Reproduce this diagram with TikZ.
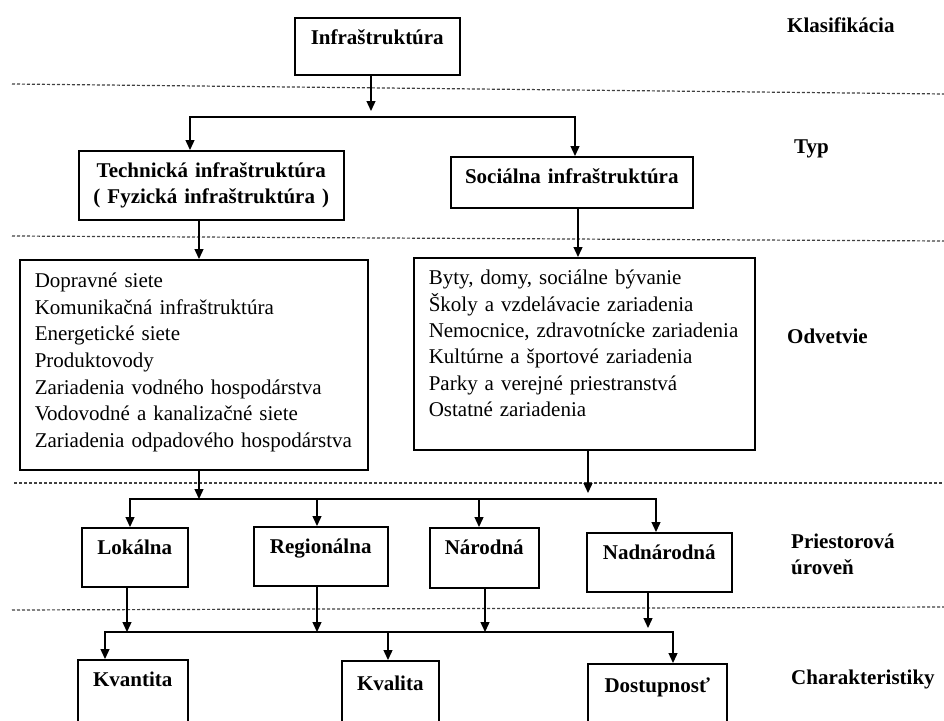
\documentclass[tikz,border=0pt]{standalone}
\usepackage{fontspec}
\setmainfont{Liberation Serif}
\usetikzlibrary{arrows.meta}

\begin{document}
\begin{tikzpicture}[
  x=1pt, y=-1pt,
  box/.style={draw, line width=1.5pt, inner sep=0pt, anchor=north west, align=center,
    font=\fontsize{21}{26}\selectfont\bfseries},
  lst/.style={draw, line width=1.5pt, inner xsep=15pt, inner ysep=0pt, anchor=north west, align=left},
  lvl/.style={anchor=base west, inner sep=0pt, align=left, font=\fontsize{21}{26}\selectfont\bfseries},
  arr/.style={line width=1.3pt, -{Triangle[length=10pt, width=9pt]}},
  bar/.style={line width=1.3pt, line cap=rect},
  sep/.style={line width=1.2pt, black!75, dash pattern=on 3pt off 2pt}
]
  \useasboundingbox (0,0) rectangle (944,720);
  \clip (0,0) rectangle (944,720);

  % dotted separators between the levels
  \draw[sep] (12,84) -- (944,94);
  \draw[sep] (12,236) -- (944,241);
  \draw[sep] (14,483) -- (944,483);
  \draw[sep] (12,610) -- (944,607);

  % level names on the right
  \node[lvl] (klas) at (787,32)  {Klasifikácia};
  \node[lvl] (typ)  at (794,153) {Typ};
  \node[lvl] (odv)  at (787,343) {Odvetvie};
  \node[lvl] (prie) at (791,574) {Priestorová\\úroveň};
  \node[lvl] (char) at (791,684) {Charakteristiky};

  % boxes
  \node[box, text width=165pt, text height=27pt, text depth=30pt] (infra) at (294,17) {Infraštruktúra};
  \node[box, text width=265pt, text height=27pt, text depth=42pt] (tech) at (78,150)
    {Technická infraštruktúra\\( Fyzická infraštruktúra )};
  \node[box, text width=242pt, text height=27pt, text depth=24pt] (soc) at (450,156) {Sociálna infraštruktúra};

  \node[lst, text width=318pt, text height=28pt, text depth=182pt,
    font=\fontsize{21}{26.6}\selectfont] (tlist) at (19,259)
    {Dopravné siete\\Komunikačná infraštruktúra\\Energetické siete\\Produktovody\\
     Zariadenia vodného hospodárstva\\Vodovodné a kanalizačné siete\\Zariadenia odpadového hospodárstva};
  \node[lst, text width=311pt, text height=27pt, text depth=165pt,
    font=\fontsize{21}{26.4}\selectfont] (slist) at (413,257)
    {Byty, domy, sociálne bývanie\\Školy a vzdelávacie zariadenia\\Nemocnice, zdravotnícke zariadenia\\
     Kultúrne a športové zariadenia\\Parky a verejné priestranstvá\\Ostatné zariadenia};

  \node[box, text width=106pt, text height=27pt, text depth=32pt] (lok) at (81,527)  {Lokálna};
  \node[box, text width=134pt, text height=27pt, text depth=32pt] (reg) at (253,526) {Regionálna};
  \node[box, text width=109pt, text height=27pt, text depth=33pt] (nar) at (429,527) {Národná};
  \node[box, text width=145pt, text height=27pt, text depth=32pt] (nad) at (586,532) {Nadnárodná};

  \node[box, text width=110pt, text height=27pt, text depth=70pt] (kvan) at (77,659)  {Kvantita};
  \node[box, text width=97pt,  text height=30pt, text depth=70pt] (kval) at (341,660) {Kvalita};
  \node[box, text width=139pt, text height=29pt, text depth=70pt] (dost) at (587,663) {Dostupnosť};

  % bar ends and x guides of the arrows
  \coordinate (b1w) at (190,117);
  \coordinate (b1e) at (575,117);
  \coordinate (b2w) at (130,499);
  \coordinate (b2e) at (656,499);
  \coordinate (b3w) at (105,632);
  \coordinate (b3e) at (673,632);
  \coordinate (g-infra) at (371,0);
  \coordinate (g-tech)  at (199,0);
  \coordinate (g-soc)   at (578,0);
  \coordinate (g-tlist) at (199,0);
  \coordinate (g-slist) at (588,0);
  \coordinate (g-lok)   at (127,0);
  \coordinate (g-reg)   at (317,0);
  \coordinate (g-nar)   at (485,0);
  \coordinate (g-nad)   at (648,0);
  \coordinate (g-reg2)  at (317,0);
  \coordinate (g-nar2)  at (479,0);
  \coordinate (g-kval)  at (388,0);

  % Infrastruktura -> typ
  \draw[arr, shorten >=6pt] (g-infra |- infra.south) -- (g-infra |- b1w);
  \draw[bar] (b1w) -- (b1e);
  \draw[arr] (b1w) -- (b1w |- tech.north);
  \draw[arr] (b1e) -- (b1e |- soc.north);

  % typ -> odvetvie
  \draw[arr] (g-tech |- tech.south) -- (g-tech |- tlist.north);
  \draw[arr] (g-soc |- soc.south) -- (g-soc |- slist.north);

  % odvetvie -> priestorova uroven
  \draw[arr] (g-tlist |- tlist.south) -- (g-tlist |- b2w);
  \draw[arr, shorten >=6pt] (g-slist |- slist.south) -- (g-slist |- b2w);
  \draw[bar] (b2w) -- (b2e);
  \draw[arr] (b2w) -- (b2w |- lok.north);
  \draw[arr] (g-reg2 |- b2w) -- (g-reg2 |- reg.north);
  \draw[arr] (g-nar2 |- b2w) -- (g-nar2 |- nar.north);
  \draw[arr] (b2e) -- (b2e |- nad.north);

  % priestorova uroven -> charakteristiky
  \draw[arr] (g-lok |- lok.south) -- (g-lok |- b3w);
  \draw[arr] (g-reg |- reg.south) -- (g-reg |- b3w);
  \draw[arr] (g-nar |- nar.south) -- (g-nar |- b3w);
  \draw[arr, shorten >=4pt] (g-nad |- nad.south) -- (g-nad |- b3w);
  \draw[bar] (b3w) -- (b3e);
  \draw[arr] (b3w) -- (b3w |- kvan.north);
  \draw[arr] (g-kval |- b3w) -- (g-kval |- kval.north);
  \draw[arr] (b3e) -- (b3e |- dost.north);
\end{tikzpicture}
\end{document}
